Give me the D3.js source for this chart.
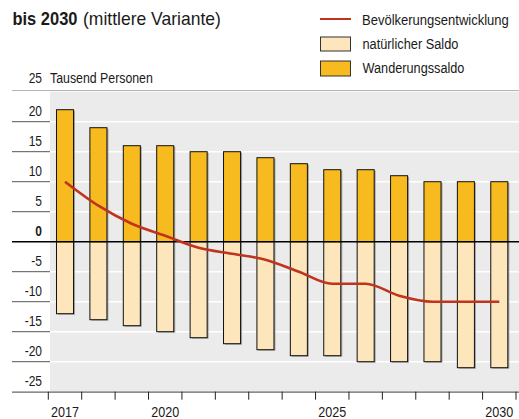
<!DOCTYPE html>
<html><head><meta charset="utf-8">
<script src="https://cdn.jsdelivr.net/npm/d3@7/dist/d3.min.js"></script>
<style>
html,body{margin:0;padding:0;background:#fff;}
svg{display:block;font-family:"Liberation Sans","Noto Sans",sans-serif;}
</style></head>
<body><svg id="c" width="519" height="419"></svg>
<script>
const years = [2017,2018,2019,2020,2021,2022,2023,2024,2025,2026,2027,2028,2029,2030];
const wanderungssaldo = [22,19,16,16,15,15,14,13,12,12,11,10,10,10];
const natuerlicherSaldo = [-12,-13,-14,-15,-16,-17,-18,-19,-19,-20,-20,-20,-21,-21];
const bevoelkerung = [10,6,3,1,-1,-2,-3,-5,-7,-7,-9,-10,-10,-10];
const yTicks = [25,20,15,10,5,0,-5,-10,-15,-20,-25];
const xLabels = [2017,2020,2025,2030];

(function(){
const svg = d3.select("#c");
const pL = 50, pR = 519, pT = 91.7, pB = 391.7;
const y = d3.scaleLinear().domain([-25,25]).range([pB, pT]);
const x = d3.scaleBand().domain(years).range([48.3, 516]).paddingInner(0.49).paddingOuter(0.245);
const step = x.step();
const ink = "#1a1a1a";

// text in a horizontally condensed style (reference uses a condensed face)
function label(px, py, str, opts) {
  const o = Object.assign({size: 15, weight: "normal", anchor: "start", k: 0.8, w: null}, opts || {});
  const g = svg.append("g");
  const t = g.append("text").attr("x", 0).attr("y", 0).attr("text-anchor", o.anchor)
    .attr("font-size", o.size).attr("font-weight", o.weight).attr("fill", ink).text(str);
  const n = t.node().getComputedTextLength();
  const k = o.w != null ? o.w / n : o.k;
  g.attr("transform", `translate(${px},${py}) scale(${k},1)`);
  return g;
}

// background
svg.append("rect").attr("x", pL).attr("y", pT).attr("width", pR-pL).attr("height", pB-pT).attr("fill", "#ebebeb");
svg.append("line").attr("x1", 12).attr("x2", 519).attr("y1", 90.5).attr("y2", 90.5).attr("stroke", "#b5b5b5").attr("stroke-width", 1.2);

// grid
yTicks.filter(v => v !== 25 && v !== -25 && v !== 0).forEach(v => {
  svg.append("line").attr("x1", pL).attr("x2", pR).attr("y1", y(v)).attr("y2", y(v)).attr("stroke", "#fff").attr("stroke-width", 1.5);
  svg.append("line").attr("x1", 12).attr("x2", pL).attr("y1", y(v)).attr("y2", y(v)).attr("stroke", "#555").attr("stroke-width", 1);
});

// y labels
yTicks.forEach(v => {
  if (v === 25) return;
  label(42, y(v) - 6, String(v), {anchor: "end", weight: v === 0 ? "bold" : "normal"});
});
label(42, 83, "25", {anchor: "end"});
label(50, 83, "Tausend Personen", {w: 103});

// bars
function drawBars(data, fill) {
  const g = svg.append("g");
  g.selectAll("rect.s").data(data).join("rect").attr("class","s")
    .attr("x", (d,i) => x(years[i]) + 1.5)
    .attr("y", d => Math.min(y(d), y(0)) + 1)
    .attr("width", x.bandwidth())
    .attr("height", d => Math.abs(y(d) - y(0)))
    .attr("fill", "#666").attr("opacity", 0.55);
  g.selectAll("rect.b").data(data).join("rect").attr("class","b")
    .attr("x", (d,i) => x(years[i]))
    .attr("y", d => Math.min(y(d), y(0)))
    .attr("width", x.bandwidth())
    .attr("height", d => Math.abs(y(d) - y(0)))
    .attr("fill", fill).attr("stroke", "#111").attr("stroke-width", 1);
}
drawBars(wanderungssaldo, "#f8bb1f");
drawBars(natuerlicherSaldo, "#fde6bb");

// zero line
svg.append("line").attr("x1", 12).attr("x2", 519).attr("y1", y(0)).attr("y2", y(0)).attr("stroke", "#000").attr("stroke-width", 1.5);

// line
const line = d3.line().x((d,i) => x(years[i]) + x.bandwidth()/2).y(d => y(d)).curve(d3.curveMonotoneX);
svg.append("path").datum(bevoelkerung).attr("d", line).attr("fill", "none").attr("stroke", "#c0331c").attr("stroke-width", 2.6);

// x axis
svg.append("line").attr("x1", 12).attr("x2", 519).attr("y1", pB + 0.5).attr("y2", pB + 0.5).attr("stroke", "#666").attr("stroke-width", 1.2);
const tickPos = years.map(yr => x(yr) + x.bandwidth()/2 - step/2).concat([x(years[years.length-1]) + x.bandwidth()/2 + step/2]);
tickPos.forEach(p => {
  svg.append("line").attr("x1", p).attr("x2", p).attr("y1", pB).attr("y2", pB + 8).attr("stroke", "#222").attr("stroke-width", 1);
});
xLabels.forEach(yr => {
  label(x(yr) + x.bandwidth()/2, 416.5, String(yr), {anchor: "middle", w: 28});
});

// title
label(12.5, 25, "bis 2030", {size: 19, weight: "bold", w: 65});
label(83, 25, "(mittlere Variante)", {size: 19, w: 138});

// legend
svg.append("line").attr("x1", 320).attr("x2", 351).attr("y1", 19).attr("y2", 19).attr("stroke", "#c0331c").attr("stroke-width", 2);
label(362, 25, "Bevölkerungsentwicklung", {w: 147});
svg.append("rect").attr("x", 320.5).attr("y", 37).attr("width", 30).attr("height", 14).attr("fill", "#fde6bb").attr("stroke", "#333").attr("stroke-width", 1);
label(362.5, 49, "natürlicher Saldo", {w: 96});
svg.append("rect").attr("x", 320.5).attr("y", 61).attr("width", 30).attr("height", 15).attr("fill", "#f8bb1f").attr("stroke", "#333").attr("stroke-width", 1);
label(362.5, 73, "Wanderungssaldo", {w: 102});
})();
</script></body></html>
